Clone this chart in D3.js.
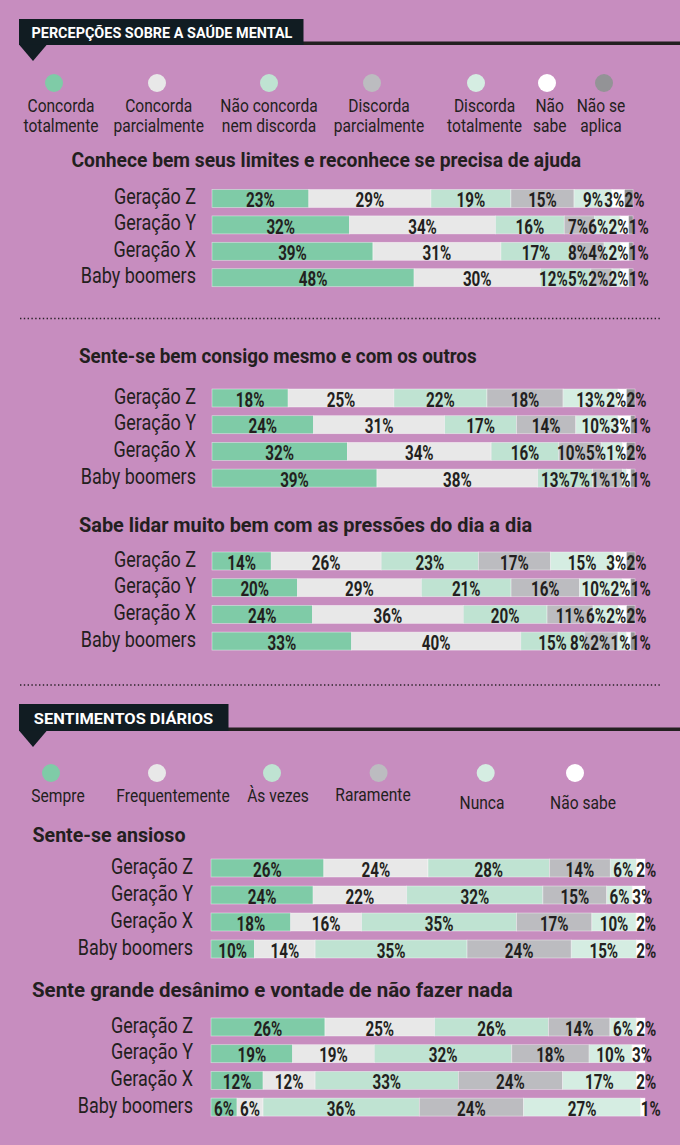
<!DOCTYPE html>
<html><head><meta charset="utf-8">
<script src="https://cdn.jsdelivr.net/npm/d3@7"></script>
<style>
html,body{margin:0;padding:0;background:#C78DBF;}
svg{display:block;}
text{font-family:Roboto,"Noto Sans","DejaVu Sans Condensed",sans-serif;}
</style></head><body>
<svg id="c" width="680" height="1145"></svg>
<script>
// ---------- DATA ----------
const generations = ["Geração Z", "Geração Y", "Geração X", "Baby boomers"];

const agreementCategories = ["Concorda totalmente", "Concorda parcialmente", "Não concorda nem discorda",
  "Discorda parcialmente", "Discorda totalmente", "Não sabe", "Não se aplica"];
const agreementLegendLines = [["Concorda", "totalmente"], ["Concorda", "parcialmente"], ["Não concorda", "nem discorda"],
  ["Discorda", "parcialmente"], ["Discorda", "totalmente"], ["Não", "sabe"], ["Não se", "aplica"]];

const frequencyCategories = ["Sempre", "Frequentemente", "Às vezes", "Raramente", "Nunca", "Não sabe"];

const sectionTitles = ["PERCEPÇÕES SOBRE A SAÚDE MENTAL", "SENTIMENTOS DIÁRIOS"];
const chartTitles = [
  "Conhece bem seus limites e reconhece se precisa de ajuda",
  "Sente-se bem consigo mesmo e com os outros",
  "Sabe lidar muito bem com as pressões do dia a dia",
  "Sente-se ansioso",
  "Sente grande desânimo e vontade de não fazer nada"
];

// rows = generations, columns = categories (%)
const limitesValues  = [[23,29,19,15,9,3,2],[32,34,16,7,6,2,1],[39,31,17,8,4,2,1],[48,30,12,5,2,2,1]];
const bemValues      = [[18,25,22,18,13,2,2],[24,31,17,14,10,3,1],[32,34,16,10,5,1,2],[39,38,13,7,1,1,1]];
const pressoesValues = [[14,26,23,17,15,3,2],[20,29,21,16,10,2,1],[24,36,20,11,6,2,2],[33,40,15,8,2,1,1]];
const ansiosoValues  = [[26,24,28,14,6,2],[24,22,32,15,6,3],[18,16,35,17,10,2],[10,14,35,24,15,2]];
const desanimoValues = [[26,25,26,14,6,2],[19,19,32,18,10,3],[12,12,33,24,17,2],[6,6,36,24,27,1]];

// ---------- STYLE / LAYOUT ----------
const BG = "#C78DBF", DARK = "#231F20", HEAD = "#111C22";
const agreementColors = ["#7FCBA7","#E8E8E8","#BFE3D2","#BCBCC0","#D5EDE2","#FFFFFF","#939396"];
const frequencyColors = ["#7FCBA7","#E8E8E8","#BFE3D2","#BCBCC0","#D5EDE2","#FFFFFF"];
const SX = 0.82;       // horizontal condensing (legend)
const SX_ROW = 0.80;   // row labels
const SX_VAL = 0.78;   // value labels

const svg = d3.select("#c");
svg.append("rect").attr("width",680).attr("height",1145).attr("fill",BG);

// condensed text helper
function ctext(parent, x, y, str, opts) {
  const sx = opts.sx || SX;
  const t = parent.append("text").attr("transform",`translate(${x},${y}) scale(${sx},1)`)
    .attr("font-size",opts.size).attr("font-weight",opts.weight||"normal")
    .attr("fill",opts.fill||DARK).attr("text-anchor",opts.anchor||"start").text(str);
  return t;
}
// text fitted to a target width
function fitText(parent, x, y, str, width, opts) {
  const t = ctext(parent, x, y, str, Object.assign({}, opts, {sx:1}));
  const w = t.node().getComputedTextLength();
  t.attr("transform",`translate(${x},${y}) scale(${width/w},1)`);
  return t;
}

function sectionHeader(text, boxTop, boxBottom, boxRight, textX, textW) {
  const g = svg.append("g");
  g.append("rect").attr("x",19).attr("y",boxBottom-3.5).attr("width",680-19).attr("height",3.5).attr("fill",DARK);
  g.append("rect").attr("x",19).attr("y",boxTop).attr("width",boxRight-19).attr("height",boxBottom-boxTop).attr("fill",HEAD);
  g.append("path").attr("d",`M19,${boxBottom-0.5} L47,${boxBottom-0.5} L33,${boxBottom+16} Z`).attr("fill",HEAD);
  fitText(g, textX, boxBottom-7.5, text, textW, {size:15, weight:"bold", fill:"#fff"});
}
sectionHeader(sectionTitles[0], 19, 45, 303.5, 31.5, 261);
sectionHeader(sectionTitles[1], 704, 731, 228.5, 33.8, 179.5);

function legend(cats, colors, dotX, textX, dotY, lines, baselines) {
  const g = svg.append("g");
  cats.forEach((c,i) => {
    g.append("circle").attr("cx",dotX[i]).attr("cy",dotY).attr("r",9).attr("fill",colors[i]);
    lines[i].forEach((ln,j) => ctext(g, textX[i], baselines[i] + j*20, ln, {size:19, anchor:"middle"}));
  });
}
legend(agreementCategories, agreementColors,
  [54,157,269,372,476,547,604], [61,158.7,269,379,484.6,549.7,601], 83,
  agreementLegendLines, agreementCategories.map(()=>112));
legend(frequencyCategories, frequencyColors,
  [51,157,272,378.6,485.7,575], [58,173,278,373,482,583], 773,
  frequencyCategories.map(c=>[c]), [802,802,802,801,809,809]);

// dotted separators
[318.5, 685].forEach(y => svg.append("line").attr("x1",20).attr("x2",660).attr("y1",y).attr("y2",y)
  .attr("stroke","#2a2228").attr("stroke-width",1.6).attr("stroke-dasharray","1.4,2.4"));

function chart(cfg) {
  const g = svg.append("g");
  fitText(g, cfg.titleX, cfg.titleY, cfg.title, cfg.titleW, {size:20.5, weight:"bold"});
  const y = d3.scalePoint().domain(generations).range([cfg.top, cfg.top + 3*cfg.step]);
  const barH = 18;
  cfg.values.forEach((row, r) => {
    const gen = generations[r];
    const total = d3.sum(row);
    const x = d3.scaleLinear().domain([0,total]).range([cfg.x0, cfg.x1]);
    const cum = d3.cumsum(row);
    const segs = row.map((v,i)=>({v, a: cum[i]-v, b: cum[i], color: cfg.colors[i]}));
    const yt = y(gen);
    ctext(g, cfg.labelRight, yt+14.5, gen, {size:22.5, anchor:"end", sx:SX_ROW});
    g.selectAll(null).data(segs).join("rect")
      .attr("x",d=>x(d.a)).attr("y",yt).attr("width",d=>x(d.b)-x(d.a)).attr("height",barH)
      .attr("fill",d=>d.color).attr("stroke","rgba(255,255,255,0.55)").attr("stroke-width",0.7);
    const vy = yt + barH - 0.3;
    const labels = segs.map(s => ctext(g, 0, vy, s.v+"%", {size:19.5, weight:"bold", sx:SX_VAL}));
    const widths = labels.map(t => t.node().getComputedTextLength()*SX_VAL);
    let nextLeft = Infinity;
    for (let i = segs.length-1; i >= 0; i--) {
      const s = segs[i], w = widths[i];
      const sx0 = x(s.a), sx1 = x(s.b), c = (sx0+sx1)/2;
      let left;
      if (i === segs.length-1 && w > sx1-sx0) left = sx0;
      else left = Math.min(c - w/2, nextLeft - w - 0.3);
      labels[i].attr("transform",`translate(${left},${vy}) scale(${SX_VAL},1)`);
      nextLeft = left;
    }
  });
}

chart({title: chartTitles[0], values: limitesValues, colors: agreementColors,
  titleX: 71.5, titleY: 167, titleW: 510, x0: 212, x1: 633, top: 189.5, step: 26.4, labelRight: 196});
chart({title: chartTitles[1], values: bemValues, colors: agreementColors,
  titleX: 79, titleY: 363, titleW: 398, x0: 212, x1: 635, top: 389, step: 26.7, labelRight: 196});
chart({title: chartTitles[2], values: pressoesValues, colors: agreementColors,
  titleX: 79, titleY: 532, titleW: 453.5, x0: 212, x1: 635, top: 552, step: 26.7, labelRight: 196});
chart({title: chartTitles[3], values: ansiosoValues, colors: frequencyColors,
  titleX: 32.5, titleY: 842, titleW: 153, x0: 211, x1: 645, top: 859, step: 27, labelRight: 193});
chart({title: chartTitles[4], values: desanimoValues, colors: frequencyColors,
  titleX: 32, titleY: 997, titleW: 481, x0: 211, x1: 645, top: 1018, step: 26.7, labelRight: 193});
</script>
</body></html>
